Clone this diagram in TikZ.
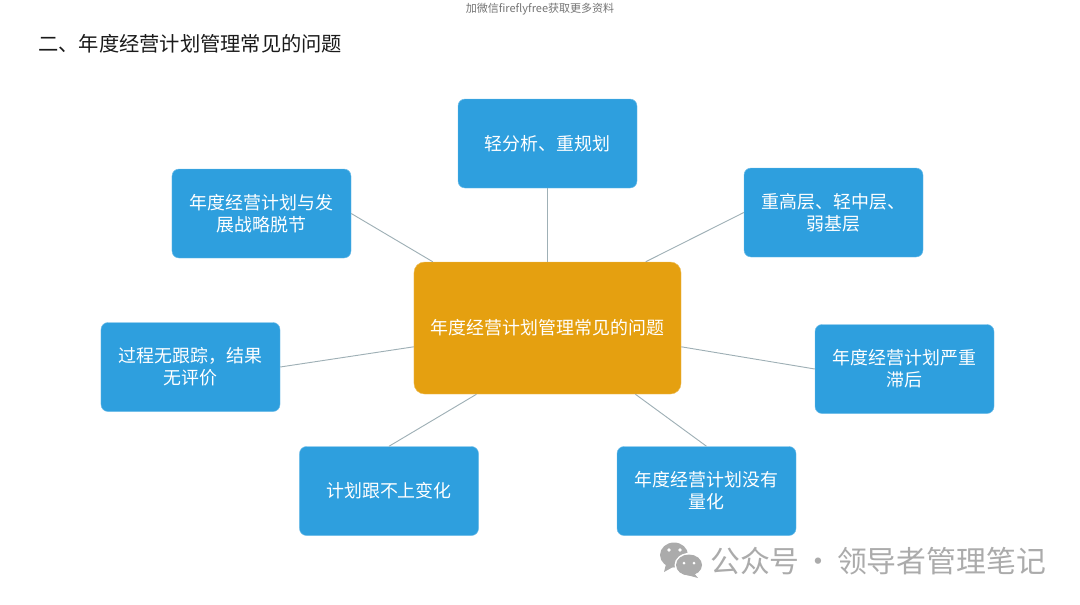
\documentclass[tikz,border=0pt]{standalone}
\usepackage{xcolor}
\usepackage{fontspec}
\setmainfont{Noto Sans CJK SC}
\usetikzlibrary{positioning}
\definecolor{boxblue}{HTML}{2E9FDE}
\definecolor{boxorange}{HTML}{E5A010}
\definecolor{linegray}{HTML}{9FB0B6}
\definecolor{markgray}{HTML}{ABABAB}
\definecolor{titleblack}{HTML}{1A1A1A}

\begin{document}
\begin{tikzpicture}[
    x=0.03cm, y=-0.03cm,
    % blue boxes around the centre
    issue/.style={
        rounded corners=6pt, fill=boxblue, draw=boxblue!70!white, line width=0.4pt,
        minimum width=5.37cm, minimum height=2.67cm, text width=4.75cm,
        align=center, text=white, font=\fontsize{15.3pt}{19pt}\selectfont
    },
    centre/.style={
        rounded corners=9pt, fill=boxorange, draw=boxorange!70!white, line width=0.4pt,
        minimum width=8.01cm, minimum height=3.96cm,
        align=center, text=white, font=\fontsize{15.3pt}{19pt}\selectfont
    },
    spoke/.style={draw=linegray, line width=0.8pt},
    heading/.style={font=\fontsize{17.3pt}{20pt}\selectfont, text=titleblack, inner sep=0pt, anchor=west},
    topnote/.style={font=\fontsize{9.4pt}{11pt}\selectfont, text=black!55, inner sep=0pt},
    brandmark/.style={font=\fontsize{25.5pt}{30pt}\selectfont, text=markgray, inner sep=0pt, anchor=west}
]
    \useasboundingbox (0,0) rectangle (1080,604);

    % --- texts ---
    \node[topnote] (note) at (540,9) {加微信fireflyfree获取更多资料};
    \node[heading] (title) at (38,44) {二、年度经营计划管理常见的问题};

    % --- boxes ---
    \node[centre] (main) at (547.5,328) {年度经营计划管理常见的问题};
    \node[issue] (top) at (547.5,143.5) {轻分析、重规划};
    \node[issue] (upright) at (833.5,212.5) {重高层、轻中层、\\弱基层};
    \node[issue] (right) at (904.5,369) {年度经营计划严重\\滞后};
    \node[issue] (downright) at (706.5,491) {年度经营计划没有\\量化};
    \node[issue] (downleft) at (389,491) {计划跟不上变化};
    \node[issue] (left) at (190.5,367) {过程无跟踪，结果\\无评价};
    \node[issue] (upleft) at (261.5,213.5) {年度经营计划与发\\展战略脱节};

    % --- spokes ---
    \draw[spoke] (main.north) -- (top.south);
    \draw[spoke] (main.34) -- (upright.west);
    \draw[spoke] (main.-8) -- (right.west);
    \draw[spoke] (main.-37) -- (downright.north);
    \draw[spoke] (main.223) -- (downleft.north);
    \draw[spoke] (main.188) -- (left.east);
    \draw[spoke] (main.150) -- (upleft.east);

    % --- watermark ---
    \node[brandmark] (brand) at (710,561) {公众号\hspace{-.1em} · \hspace{-.1em}领导者管理笔记};
    \fill[markgray] (674,555) ellipse (14 and 12.5);
    \fill[markgray] (666,564) -- (664,572) -- (673,567) -- cycle;
    \fill[white] (689,565) ellipse (14.5 and 12);
    \fill[markgray] (689,565) ellipse (13 and 10.5);
    \fill[markgray] (694,573) -- (698,578) -- (687,575) -- cycle;
    \fill[white] (669,550) circle (1.8) (680,550) circle (1.8) (684,563) circle (1.5) (694,563) circle (1.5);
\end{tikzpicture}
\end{document}
